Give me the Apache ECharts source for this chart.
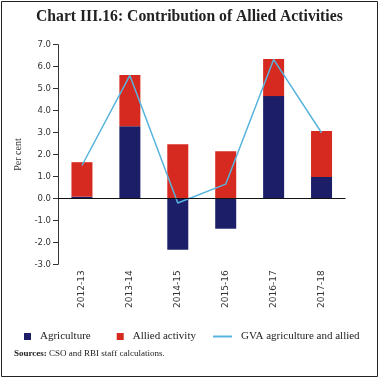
<!DOCTYPE html>
<html><head><meta charset="utf-8">
<script src="https://cdn.jsdelivr.net/npm/echarts@6/dist/echarts.min.js"></script>
<style>html,body{margin:0;padding:0;background:#fff}#c{width:380px;height:378px}</style>
</head><body><div id="c"></div>
<script>
var categories = ['2012-13','2013-14','2014-15','2015-16','2016-17','2017-18'];
var agriculture = [0.08, 3.29, -2.34, -1.38, 4.66, 0.98];
var allied = [1.57, 2.33, 2.47, 2.15, 1.69, 2.09];
var gva = [1.5, 5.6, -0.21, 0.65, 6.33, 2.99];
var yTicks = {min: -3, max: 7, interval: 1};

var chart = echarts.init(document.getElementById('c'));
chart.setOption({
  animation: false,
  title: {
    text: 'Chart III.16: Contribution of Allied Activities',
    left: 36, top: 9, padding: 0,
    textStyle: {fontFamily: 'Liberation Serif', fontWeight: 'bold', fontSize: 15.7, color: '#222'}
  },
  graphic: [{type: 'rect', shape: {x: 1.5, y: 1.5, width: 376, height: 375}, style: {fill: 'none', stroke: '#222', lineWidth: 1}, silent: true}],
  grid: {left: 58, right: 34.5, top: 44.7, bottom: 113.7},
  legend: [{
    data: ['Agriculture', 'Allied activity'],
    left: 24, top: 331, padding: 0, itemWidth: 7, itemHeight: 7, itemGap: 26, icon: 'rect',
    textStyle: {fontFamily: 'Liberation Serif', fontSize: 11, color: '#222', padding: [0, 0, 0, 4]}
  }, {
    data: ['GVA agriculture and allied'],
    left: 213, top: 331, padding: 0, itemWidth: 19, itemHeight: 2, icon: 'rect',
    textStyle: {fontFamily: 'Liberation Serif', fontSize: 11, color: '#222', padding: [0, 0, 0, 4]}
  }],
  xAxis: {
    type: 'category', data: categories, boundaryGap: true,
    axisLine: {show: false, onZero: false}, axisTick: {show: false},
    axisLabel: {rotate: 90, margin: 6, fontFamily: 'DejaVu Sans', fontSize: 9, color: '#333'}
  },
  yAxis: {
    type: 'value', min: yTicks.min, max: yTicks.max, interval: yTicks.interval,
    name: 'Per cent', nameLocation: 'middle', nameGap: 33, nameRotate: 90,
    nameTextStyle: {fontFamily: 'Liberation Serif', fontSize: 10, color: '#333'},
    axisLine: {show: true, lineStyle: {color: '#333', width: 1}},
    axisTick: {show: true, length: 5, lineStyle: {color: '#333'}},
    splitLine: {show: false},
    axisLabel: {formatter: function (v) { return v.toFixed(1); }, margin: 7, fontFamily: 'DejaVu Sans', fontSize: 8.5, color: '#333'}
  },
  series: [{
    name: 'Agriculture', type: 'bar', stack: 'a', barWidth: 21, data: agriculture,
    itemStyle: {color: '#1c1f68'},
    markLine: {silent: true, symbol: 'none', label: {show: false}, lineStyle: {color: '#111', type: 'solid', width: 1}, data: [{yAxis: 0}]}
  }, {
    name: 'Allied activity', type: 'bar', stack: 'a', barWidth: 21, data: allied,
    itemStyle: {color: '#d62a20'}
  }, {
    name: 'GVA agriculture and allied', type: 'line', data: gva, symbol: 'none',
    lineStyle: {color: '#57b4dc', width: 1.5}, itemStyle: {color: '#57b4dc'}
  }]
});
</script>
<div style="position:absolute;left:14px;top:348px;font-family:'Liberation Serif';font-size:9px;color:#222"><b>Sources:</b> CSO and RBI staff calculations.</div>
</body></html>
